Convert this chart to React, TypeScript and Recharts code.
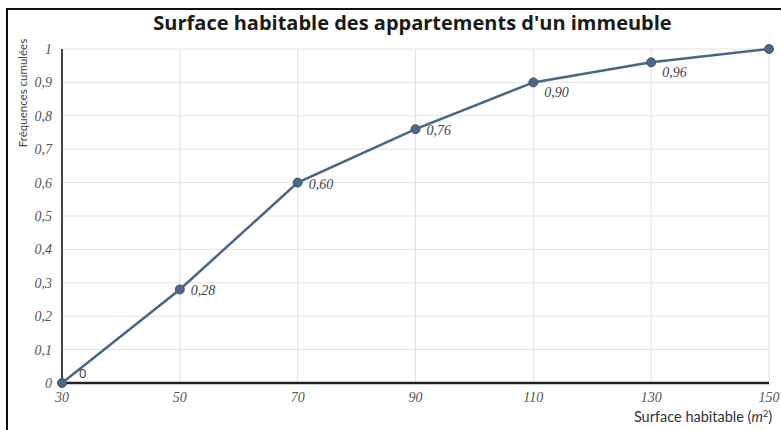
import React from "react";
import {
  LineChart, Line, XAxis, YAxis, CartesianGrid, LabelList,
} from "recharts";

// Surface (m²) -> fréquences cumulées
const surfaces = [30, 50, 70, 90, 110, 130, 150];
const frequences = [0, 0.28, 0.6, 0.76, 0.9, 0.96, 1];
const pointLabels = ["0", "0,28", "0,60", "0,76", "0,90", "0,96", ""];
const xTicks = [30, 50, 70, 90, 110, 130, 150];
const yTicks = [0, 0.1, 0.2, 0.3, 0.4, 0.5, 0.6, 0.7, 0.8, 0.9, 1];

const data = surfaces.map((s, i) => ({ s, f: frequences[i], lab: pointLabels[i] }));

const SERIF = "'Liberation Serif', 'DejaVu Serif', serif";
const SANS = "'Open Sans', 'Noto Sans', sans-serif";
const LINE = "#4a6685";

const fmtY = (v: number) => String(Math.round(v * 10) / 10).replace(".", ",");

export default function App() {
  return (
    <div style={{ position: "absolute", left: 0, top: 0, width: 781, height: 430, background: "#fff", overflow: "hidden" }}>
      {/* cadre */}
      <div style={{ position: "absolute", left: 6, top: 8, width: 800, height: 440, borderTop: "2px solid #111", borderLeft: "2px solid #111" }} />
      <div
        style={{
          position: "absolute", left: 0, width: 825, top: 9, textAlign: "center",
          fontFamily: SANS, fontWeight: 700, fontSize: 20, color: "#1a1a1a",
        }}
      >
        Surface habitable des appartements d'un immeuble
      </div>
      <LineChart
        width={781}
        height={430}
        data={data}
        margin={{ top: 49, right: 12, bottom: 17, left: 20 }}
        style={{ position: "absolute", left: 0, top: 0 }}
      >
        <CartesianGrid stroke="#e3e3da" strokeWidth={1} />
        <XAxis
          dataKey="s"
          type="number"
          domain={[30, 150]}
          ticks={xTicks}
          tickLine={false}
          axisLine={{ stroke: "#222", strokeWidth: 2.5 }}
          tick={{ fontFamily: SERIF, fontStyle: "italic", fontSize: 14, fill: "#555" }}
          tickMargin={3}
          height={30}
          label={(props: any) => {
            const vb = props.viewBox || {};
            const x = (vb.x ?? 62) + (vb.width ?? 707) + 3;
            return (
              <text x={x} y={422} textAnchor="end" fontFamily="Lato, 'Open Sans', sans-serif" fontSize={14.5} fill="#333">
                Surface habitable (<tspan fontStyle="italic">m</tspan><tspan fontSize={9} dy={-5}>2</tspan><tspan dy={5}>)</tspan>
              </text>
            );
          }}
        />
        <YAxis
          type="number"
          domain={[0, 1]}
          ticks={yTicks}
          tickFormatter={fmtY}
          tickLine={false}
          axisLine={{ stroke: "#444", strokeWidth: 2 }}
          tick={{ fontFamily: SERIF, fontStyle: "italic", fontSize: 14, fill: "#555" }}
          tickMargin={4}
          width={42}
          label={() => (
            <text
              x={0}
              y={0}
              transform="translate(27,93) rotate(-90)"
              textAnchor="middle"
              fontFamily="Lato, 'Open Sans', sans-serif"
              fontSize={11.5}
              fill="#444"
            >
              Fréquences cumulées
            </text>
          )}
        />
        <Line
          dataKey="f"
          stroke={LINE}
          strokeWidth={2.5}
          dot={{ r: 4.5, fill: "#4a6888", stroke: "#3d5572", strokeWidth: 1 }}
          activeDot={false}
          isAnimationActive={false}
        >
          <LabelList
            dataKey="lab"
            content={(p: any) => {
              const { x, y, value, index } = p;
              if (!value) return null;
              if (index === 0) {
                return (
                  <text x={x + 17} y={y - 5} fontFamily={SANS} fontSize={13} fill="#333">{value}</text>
                );
              }
              const dy = index === 4 || index === 5 ? 15 : 6;
              return (
                <text x={x + 11} y={y + dy} fontFamily={SERIF} fontStyle="italic" fontSize={14} fill="#444">
                  {value}
                </text>
              );
            }}
          />
        </Line>
      </LineChart>
    </div>
  );
}
